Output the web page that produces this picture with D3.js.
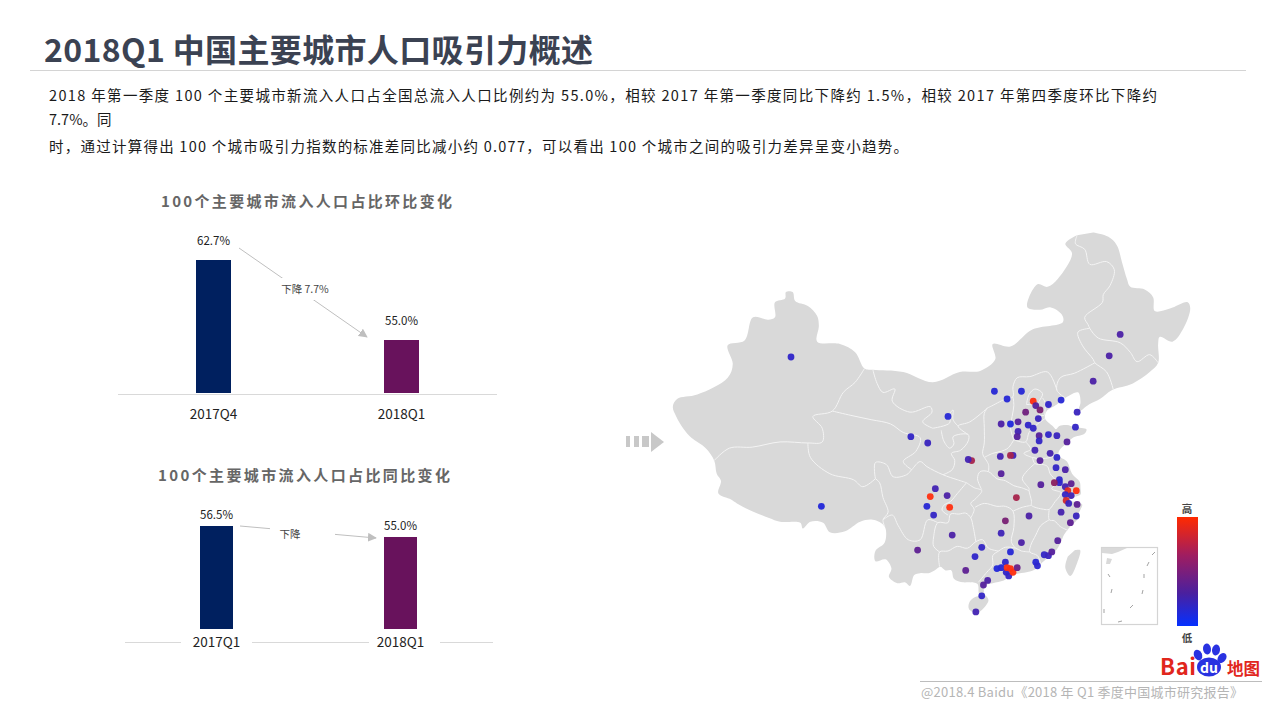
<!DOCTYPE html>
<html>
<head>
<meta charset="utf-8">
<script src="https://cdnjs.cloudflare.com/ajax/libs/d3/7.8.5/d3.min.js"></script>
<style>
  html, body { margin: 0; padding: 0; background: #fff; }
  svg { display: block; }
  text { font-family: "Noto Sans CJK SC", "Noto Sans", sans-serif; }
</style>
</head>
<body>
<svg id="chart" width="1280" height="720"></svg>
<script>
// bar data
var qoqLabels = ["2017Q4", "2018Q1"]
var qoqValues = [62.7, 55.0]
var yoyLabels = ["2017Q1", "2018Q1"]
var yoyValues = [56.5, 55.0]
var barColors = ["#00205f", "#68125c"]

var bodyLines = [
  "2018 年第一季度 100 个主要城市新流入人口占全国总流入人口比例约为 55.0%，相较 2017 年第一季度同比下降约 1.5%，相较 2017 年第四季度环比下降约",
  "7.7%。同",
  "时，通过计算得出 100 个城市吸引力指数的标准差同比减小约 0.077，可以看出 100 个城市之间的吸引力差异呈变小趋势。"
]

// cities: lon, lat, attraction index (0 low - 1 high)
var cities = [
  [126.6,45.7,.25],[125.3,43.9,.25],[123.4,41.7,.25],[121.5,38.9,.15],[119.6,40.0,.05],[118.1,39.6,.1],
  [116.3,39.9,1],[116.6,39.5,.3],[117.1,39.1,.5],[115.4,38.9,.45],[114.9,40.8,.05],[113.2,40.1,.05],
  [111.7,40.8,.05],[116.9,38.3,.15],[112.5,37.8,.25],[113.6,37.8,.02],[114.5,38.0,.3],[115.7,37.7,.1],
  [116.3,37.4,.12],[121.3,37.5,.12],[114.5,37.1,.2],[114.4,36.6,.3],[117.0,36.7,.3],[118.1,36.8,.1],
  [119.1,36.7,.15],[117.0,36.2,.12],[120.3,36.1,.3],[113.9,34.8,.18],[112.4,34.7,.2],[113.6,34.8,.7],
  [116.5,35.3,.2],[118.3,35.0,.22],[119.1,34.6,.1],[109.0,34.3,.7],[108.6,34.4,.2],[117.1,34.3,.3],
  [119.0,33.6,.12],[120.1,33.4,.25],[112.5,33.0,.3],[119.4,32.4,.1],[119.4,32.1,.1],[117.2,31.9,.3],
  [118.8,32.1,.6],[120.8,32.0,.35],[120.1,31.7,.2],[120.4,31.3,.9],[121.4,31.3,1],[120.8,30.8,.2],
  [120.1,30.9,.12],[114.3,30.6,.7],[120.2,30.3,.85],[120.5,30.0,.15],[121.5,29.9,.35],[106.4,29.6,1],
  [106.7,26.7,.25],[110.2,25.4,.12],[109.4,24.4,.1],[108.3,22.9,.35],[110.9,21.8,.25],[110.4,21.3,.3],
  [110.2,20.1,.12],[109.5,18.3,.2],[113.0,28.2,.5],[112.5,26.9,.18],[115.8,28.7,.25],[114.9,25.9,.25],
  [113.6,24.9,.05],[113.0,23.8,.1],[112.0,23.1,.03],[112.5,23.2,.05],[113.1,22.7,.1],[113.4,22.3,.12],
  [113.2,23.2,1],[113.6,23.1,1],[113.9,22.7,1],[114.4,23.2,.4],[116.6,23.8,.05],[116.8,23.4,.08],
  [117.6,24.6,.12],[118.1,24.5,.15],[118.5,24.9,.3],[119.2,26.1,.3],[119.6,29.1,.22],[121.4,28.7,.15],
  [120.7,28.0,.35],[106.2,38.5,.05],[101.8,36.6,.12],[103.8,36.0,.15],[104.7,31.5,.2],[106.1,30.8,.25],
  [104.1,30.7,1],[103.7,29.7,.05],[104.5,28.8,.12],[91.2,29.7,.03],[102.6,25.1,.35],[87.6,43.8,.1]
]

// map outlines in lon/lat, traced by eye
var mainland = [
  [123.4,53.5],[125.2,53.2],[126.2,52.6],[126.8,51.4],[127.4,50.1],[127.8,49.5],[129.5,49.3],[130.5,48.7],[130.7,47.6],[132.5,47.8],
  [134.6,48.3],[134.9,47.8],[134.1,46.2],[132.8,45.1],[131.3,45.5],[131.1,44.9],[131.1,43.3],[130.1,42.5],[128.1,41.5],[125.6,40.9],
  [124.2,40.1],[122.9,39.6],[121.6,38.9],[121.9,39.8],[121.6,40.7],[120.3,40.3],[119.1,39.6],[117.9,39.0],[117.7,38.3],[118.6,37.6],
  [119.0,37.3],[119.4,37.6],[120.3,37.7],[121.2,37.5],[122.6,37.3],[122.4,36.9],[121,36.5],[120.3,36],[119.4,35.3],[119.3,34.8],
  [120.3,34.2],[120.9,33],[121.8,32.2],[121.9,31.5],[121.9,30.9],[121,30.6],[120.6,30.3],[121.5,30.1],[122.1,29.9],[121.7,29],
  [121.5,28.3],[120.7,27.6],[120,26.8],[119.6,26],[119.1,25.2],[118.2,24.4],[117.3,23.7],[116.5,23],[115.5,22.7],[114.3,22.5],
  [113.6,22.2],[112.8,21.8],[111.5,21.5],[110.5,21.2],[110.4,20.4],[109.9,20.3],[109.7,21.4],[108.7,21.6],[108,21.6],[106.9,22],
  [106.6,22.9],[105.9,22.9],[105.3,23.3],[104.6,22.9],[103.9,22.6],[102.9,22.6],[102.2,22.4],[101.7,21.2],[101.1,21.6],[100.2,21.5],
  [99.2,22.2],[99.5,23.1],[98.8,24.1],[97.6,23.9],[97.6,25],[98.7,25.9],[98.7,27.6],[97.3,28.3],[95.8,28.1],[94,27.1],
  [92.2,27],[91.4,28],[89.9,28.1],[89,27.4],[88.7,28],[86.3,28.1],[85,28.5],[83,29.2],[81.2,30],[80.5,30.4],
  [79,31],[79.3,32.3],[78.8,33],[78.5,34.3],[77.5,35.5],[75.8,36.5],[74.9,37.3],[74,38.5],[73.6,39.4],[74.1,40.1],
  [76.5,40.5],[80.1,42],[80.7,43.2],[80.1,44.8],[82.1,45.2],[83.1,47.1],[84.9,46.9],[85.7,47.1],[85.7,48.3],[86.9,48.6],
  [87,49.1],[87.8,49.1],[88.1,48.4],[89.6,48],[90.7,47.2],[90.9,46.4],[90.7,45.1],[93.4,44.9],[95.2,44.2],[96.3,42.8],
  [97.3,42.7],[100.9,42.5],[104.4,41.6],[107.6,42.5],[110,42.6],[111.8,43.6],[111.5,44.9],[113.6,44.7],[116.2,46.1],[119.8,46.7],
  [119.7,47.3],[118.3,47.9],[117.1,47.7],[115.6,47.9],[116.8,49.7],[118,49.5],[119.2,50.1],[120.9,52],[120.1,52.7],[121.5,53.3]
]
var taiwan = [[121.25,25.1],[121.85,25.1],[121.5,23.7],[120.7,22.3],[120.1,23.2],[120.4,24.4]]
var hainan = [[110.7,20.1],[111,19.6],[110.5,18.8],[109.6,18.2],[108.7,18.6],[108.7,19.3],[109.3,19.9],[110,20.1]]

var provinceLines = [
  // north east
  [[121.5,53.3],[121.3,52.7],[122.4,52.3],[123,51.2],[125,51.4],[125.9,50.8],[125.4,49.6],[124.6,48.9],[124.5,48.3],[122.4,47.1],[122.8,46.5],[123,46.2],[124,45.4],[126.6,45],[127.8,44.2],[128.6,43.4],[130.1,44],[131.1,43.3]],
  [[123,46.2],[121.6,45.9],[122.1,44.8],[123.4,43.6],[123.6,43.3],[125,42.5],[125.8,40.9]],
  [[123.6,43.3],[121.2,42.4],[119.5,42],[119.1,40.9],[120.1,40.2]],
  // hebei, beijing, tianjin, shanxi
  [[119.1,40.9],[118,42.5],[115.9,42.1],[114.4,42],[113.9,41.2],[113.9,40.3],[113,40.1],[111.2,39.4],[110.9,39.3]],
  [[115.5,39.6],[115.8,40.5],[116.5,41],[117.4,40.6],[117,39.9],[116.7,39.5],[116,39.6],[115.5,39.6]],
  [[117.4,40.2],[117.7,39.8],[117.7,39.2],[117.6,38.6],[117,38.7],[116.9,39.3]],
  [[113.9,40.3],[114,39.5],[113.8,38.5],[113.6,37.5],[113.9,36.5],[114,36.3]],
  [[110.9,39.3],[110.5,38.8],[110.5,37.5],[110.5,36],[110.3,35],[110.5,34.6]],
  [[114,36.3],[113.3,35.5],[112.5,35.2],[111.5,35],[110.5,34.6]],
  [[117.7,38.3],[116.5,37.6],[115.8,37],[115.4,36.1],[114,36.3]],
  // shandong, jiangsu, anhui, zhejiang
  [[115.4,36.1],[116,35.4],[115.2,35],[116.2,34.6],[117.2,34.5],[118.3,34.6],[119.3,35]],
  [[116.2,34.6],[116.5,34],[117.5,33.9],[118,33.7],[118.3,33],[118.7,32.6],[119.1,32.1],[118.5,31.5],[119.4,31.2],[120,31],[120.9,31],[121.4,30.7]],
  [[116.5,34],[115.6,33.3],[115,32.5],[115.8,31.5],[115.8,31.3],[116.1,30.2],[116.1,29.8],[117.5,29.4],[118.2,29.4],[118.9,30.2],[119.4,30.7],[119.6,31.1]],
  [[118.2,29.4],[118.2,28.3],[118.8,28.2],[119.5,27.6],[120.4,27.2]],
  // fujian, jiangxi, guangdong
  [[118.2,28.3],[117.2,27.7],[116.6,26.7],[116,25.6],[115.9,24.9],[116.8,24.5],[117.2,23.6]],
  [[115.9,24.9],[114.9,25],[114.2,25.3],[113,25.4],[112.2,25],[111.5,24.5],[111.5,23.5],[110.8,22.7],[109.8,21.6]],
  // hunan, guangxi, guizhou
  [[112.2,25],[111,25.3],[110.3,26.2],[109.5,26],[108.5,25.3],[107.3,25.5],[106.2,25],[105.2,24.9],[105.2,23.3]],
  [[105.2,24.9],[104.5,25.5],[104.5,26.5],[105,28],[106.2,28],[106.5,28.9],[107.5,28.9],[108.3,29],[108.9,28.5],[109.2,27.5],[109.5,26]],
  [[108.9,28.5],[109.3,29.4],[108.9,30],[109.5,30.5],[110.2,31.3],[109.3,31.6],[108.4,32.1]],
  [[109.4,29.6],[110.5,30],[112,29.7],[113,29.7],[113.9,29.2],[114,27.5],[113.7,26],[114.2,25.3]],
  [[113.9,29.2],[115,29.6],[116.1,29.8]],
  [[115.8,31.3],[114.9,31.6],[114,31.8],[113,32.3],[112,32.5],[111,33.2],[110,33.2],[109.7,32.5],[110.2,31.4]],
  [[110.5,34.6],[111,33.9],[111,33.2]],
  // chongqing, sichuan
  [[108.4,32.1],[107.3,31],[106.5,30.2],[105.7,29.8],[105.5,29.3],[106.2,28.8]],
  [[108.4,32.1],[107.3,32.4],[105.6,32.9],[103.7,33.7],[102.9,34.2],[101.9,33.4],[101.3,32.9],[99.7,32.7],[98.9,33.9],[97.6,34.1],[97.6,32.5]],
  [[97.6,32.5],[98.1,32.1],[98.5,30.6],[99.1,29.1],[98.5,28.3],[98.7,27.6]],
  [[98.5,28.3],[99.6,28.8],[100.3,27.7],[101.5,26.2],[102.9,26.2],[103.8,28.3],[105,28]],
  // shaanxi, gansu, ningxia
  [[105.6,32.9],[106.7,33.4],[107,34.3],[106.6,35],[107.7,35.3],[108.6,36.2],[108.6,36.8],[106.8,36.6],[106.9,35.9],[106.4,35.5],[105.7,36.2],[105.4,37.2]],
  [[108.6,36.8],[107.4,37.6],[108.8,38],[110.9,39.3]],
  [[107.4,37.6],[106.8,38.2],[106.8,39.1],[106.4,38.7],[106.4,37.9],[104.4,37.4]],
  [[97.3,42.7],[97.8,41.5],[98.5,40.7],[99.9,41],[99.6,39.9],[101.7,38.9],[104.1,39.4],[104.3,38.9],[103.2,38],[104.4,37.4]],
  [[96.3,42.8],[95.2,41.6],[93.8,40.7],[92.5,39],[90.2,38.5],[91.3,37.4],[91.3,36.1],[89.6,36],[86.3,36.1],[83,35.6],[80.3,35.5],[78.5,34.3]],
  [[92.5,39],[94.7,38.6],[97.1,38.2],[99.4,37.8],[100.9,37],[102.9,36.5],[102.4,35.2],[100.9,34.2],[101.9,33.4]],
  [[89.6,36],[89.9,34.6],[92.2,33],[95,32.4],[96.1,31.7],[97.6,32.5]]
]

// colour scale of the dots and the legend bar
var cityColor = d3.scaleLinear()
  .domain([0, .3, .6, 1])
  .range(["#1c28e0", "#55209c", "#8a2060", "#ff2f10"])
var legendStops = [
  { at: "0%", c: "#ff2a00" },
  { at: "35%", c: "#a01d60" },
  { at: "70%", c: "#4a209f" },
  { at: "100%", c: "#0530ff" }
]

var svg = d3.select("#chart")
var defs = svg.append("defs")

function addText(x, y, str, size, fill, opts) {
  opts = opts || {}
  var t = svg.append("text")
    .attr("x", x)
    .attr("y", y)
    .attr("font-size", size)
    .attr("fill", fill)
    .attr("text-anchor", opts.anchor || "start")
    .attr("font-weight", opts.weight || 400)
    .text(str)
  if (opts.len) t.attr("textLength", opts.len).attr("lengthAdjust", "spacing")
  return t
}

// header
addText(44, 62, "2018Q1 中国主要城市人口吸引力概述", 32, "#3b4252", { weight: 700, len: 549 })
svg.append("line").attr("x1", 30).attr("x2", 1246).attr("y1", 70.5).attr("y2", 70.5).attr("stroke", "#d4d4d4")

addText(49, 101, bodyLines[0], 14.5, "#1a1a1a", { len: 1108 })
addText(49, 125, bodyLines[1], 14.5, "#1a1a1a")
addText(49, 152, bodyLines[2], 14.5, "#1a1a1a", { len: 859 })

// arrow head
defs.append("marker")
  .attr("id", "arrow")
  .attr("viewBox", "0 0 10 10")
  .attr("refX", 9).attr("refY", 5)
  .attr("markerWidth", 9).attr("markerHeight", 9)
  .attr("markerUnits", "userSpaceOnUse")
  .attr("orient", "auto")
  .append("path").attr("d", "M0,0L10,5L0,10Z").attr("fill", "#bfbfbf")

function buildBars(o) {
  var x = d3.scalePoint().domain(o.labels).range(o.centers)
  var y = d3.scaleLinear().domain([o.floor, o.values[0]]).range([o.base, o.top])

  addText(o.titleX, o.titleY, o.title, 15, "#666", { weight: 700, len: o.titleLen })

  svg.append("g").selectAll("rect")
    .data(o.values)
    .enter()
    .append("rect")
    .attr("x", function(d, i) { return x(o.labels[i]) - o.barW / 2 })
    .attr("y", function(d) { return y(d) })
    .attr("width", o.barW)
    .attr("height", function(d) { return o.base - y(d) })
    .attr("fill", function(d, i) { return barColors[i] })

  o.values.forEach(function(d, i) {
    addText(x(o.labels[i]), y(d) + o.valDy, d.toFixed(1) + "%", 11.5, "#222", { anchor: "middle" })
    addText(x(o.labels[i]), o.labelY, o.labels[i], 13.5, "#222", { anchor: "middle" })
  })

  // axis line, can be broken up around the labels
  o.axis.forEach(function(seg) {
    svg.append("line")
      .attr("x1", seg[0]).attr("x2", seg[1])
      .attr("y1", o.axisY).attr("y2", o.axisY)
      .attr("stroke", "#d9d9d9")
  })

  // change arrow between the two bars, white box makes the gap for the note
  svg.append("line")
    .attr("x1", o.arrow[0]).attr("y1", o.arrow[1])
    .attr("x2", o.arrow[2]).attr("y2", o.arrow[3])
    .attr("stroke", "#bfbfbf").attr("stroke-width", 1)
    .attr("marker-end", "url(#arrow)")
  svg.append("rect")
    .attr("x", o.noteBox[0]).attr("y", o.noteBox[1])
    .attr("width", o.noteBox[2]).attr("height", o.noteBox[3])
    .attr("fill", "#fff")
  addText(o.noteX, o.noteY, o.note, 10.5, "#444", { anchor: "middle" })
}

buildBars({
  title: "100个主要城市流入人口占比环比变化", titleX: 161, titleY: 207, titleLen: 291,
  labels: qoqLabels, values: qoqValues, centers: [213.5, 401.5], barW: 35,
  floor: 49.9, base: 393, top: 260, axisY: 394.5, labelY: 419, axis: [[118, 497]],
  valDy: -15,
  arrow: [239, 248, 367, 337], note: "下降 7.7%", noteX: 305, noteY: 293, noteBox: [278, 278, 54, 22]
})
buildBars({
  title: "100个主要城市流入人口占比同比变化", titleX: 158, titleY: 481, titleLen: 292,
  labels: yoyLabels, values: yoyValues, centers: [216.5, 400.5], barW: 33,
  floor: 42.45, base: 629, top: 526, axisY: 642.5, labelY: 647, axis: [[125, 181], [252, 369], [440, 493]],
  valDy: -7,
  arrow: [240, 526, 376, 538], note: "下降", noteX: 290, noteY: 538, noteBox: [270, 520, 65, 22]
})

// small arrow pointing at the map
var pointerBlocks = [[626, 4], [634, 5], [642, 7]]
svg.append("g").selectAll("rect").data(pointerBlocks).enter().append("rect")
  .attr("x", function(d) { return d[0] }).attr("y", 436)
  .attr("width", function(d) { return d[1] }).attr("height", 11)
  .attr("fill", "#c8c8c8")
svg.append("path").attr("d", "M651,432L664,442L651,452Z").attr("fill", "#c8c8c8")

// map
var projection = d3.geoMercator().scale(483.6).center([87.6, 43.8]).translate([791, 357])
var mapLine = d3.line()
  .x(function(d) { return projection(d)[0] })
  .y(function(d) { return projection(d)[1] })
  .curve(d3.curveCatmullRom.alpha(.5))

var mapG = svg.append("g")
mapG.selectAll("path.land")
  .data([mainland, taiwan, hainan])
  .enter()
  .append("path")
  .attr("class", "land")
  .attr("d", function(d) { return mapLine(d) + "Z" })
  .attr("fill", "#d9d9d9")
mapG.selectAll("path.border")
  .data(provinceLines)
  .enter()
  .append("path")
  .attr("class", "border")
  .attr("d", mapLine)
  .attr("fill", "none")
  .attr("stroke", "#f4f4f4")
  .attr("stroke-width", 1)

mapG.selectAll("circle")
  .data(cities)
  .enter()
  .append("circle")
  .attr("cx", function(d) { return projection(d)[0] })
  .attr("cy", function(d) { return projection(d)[1] })
  .attr("r", 3.4)
  .attr("fill", function(d) { return cityColor(d[2]) })
  .attr("fill-opacity", .95)

// south china sea inset
svg.append("rect")
  .attr("x", 1101.5).attr("y", 547.5).attr("width", 56).attr("height", 77)
  .attr("fill", "#fff").attr("stroke", "#d4d4d4").attr("stroke-width", 1.2)
svg.append("path").attr("d", "M1102,548H1127L1118,552L1112,554L1102,553Z").attr("fill", "#d9d9d9")
svg.append("path").attr("d", "M1107,558L1112,559L1110,564L1106,564Z").attr("fill", "#d9d9d9")
var insetTicks = [[1155,552,1152,555],[1149,562,1147,566],[1108,574,1110,577],[1144,574,1144,578],[1112,589,1111,593],[1143,590,1142,594],[1133,605,1130,608],[1104,609,1104,613],[1122,621,1118,622]]
svg.append("g").selectAll("line").data(insetTicks).enter().append("line")
  .attr("x1", function(d) { return d[0] }).attr("y1", function(d) { return d[1] })
  .attr("x2", function(d) { return d[2] }).attr("y2", function(d) { return d[3] })
  .attr("stroke", "#999").attr("stroke-width", .9)

// legend
var grad = defs.append("linearGradient").attr("id", "legendGrad")
  .attr("x1", 0).attr("x2", 0).attr("y1", 0).attr("y2", 1)
grad.selectAll("stop").data(legendStops).enter().append("stop")
  .attr("offset", function(d) { return d.at })
  .attr("stop-color", function(d) { return d.c })
svg.append("rect").attr("x", 1177).attr("y", 517).attr("width", 21).attr("height", 109).attr("fill", "url(#legendGrad)")
addText(1187, 513, "高", 10.5, "#444", { anchor: "middle", weight: 700 })
addText(1187, 642, "低", 10.5, "#444", { anchor: "middle", weight: 700 })

// baidu logo
addText(1160, 675, "Bai", 22, "#e1261c", { weight: 700, len: 36 })
var pawPads = [[1198, 655, 4, 5.5, -25], [1207, 649, 4, 5.5, -5], [1216, 650, 4, 5.5, 10], [1222, 658, 4, 5.5, 35]]
svg.append("g").selectAll("ellipse").data(pawPads).enter().append("ellipse")
  .attr("cx", 0).attr("cy", 0)
  .attr("rx", function(d) { return d[2] }).attr("ry", function(d) { return d[3] })
  .attr("transform", function(d) { return "translate(" + d[0] + "," + d[1] + ") rotate(" + d[4] + ")" })
  .attr("fill", "#2932e1")
svg.append("ellipse").attr("cx", 1209).attr("cy", 667).attr("rx", 12).attr("ry", 9.5).attr("fill", "#2932e1")
addText(1209, 673, "du", 14, "#fff", { anchor: "middle", weight: 700 })
addText(1227, 675, "地图", 16.5, "#e1261c", { weight: 700 })

// footer
svg.append("line").attr("x1", 920).attr("x2", 1262).attr("y1", 681.5).attr("y2", 681.5).attr("stroke", "#bdbdbd")
addText(921, 697, "@2018.4 Baidu《2018 年 Q1 季度中国城市研究报告》", 13, "#b5b5b5", { len: 322 })
</script>
</body>
</html>
